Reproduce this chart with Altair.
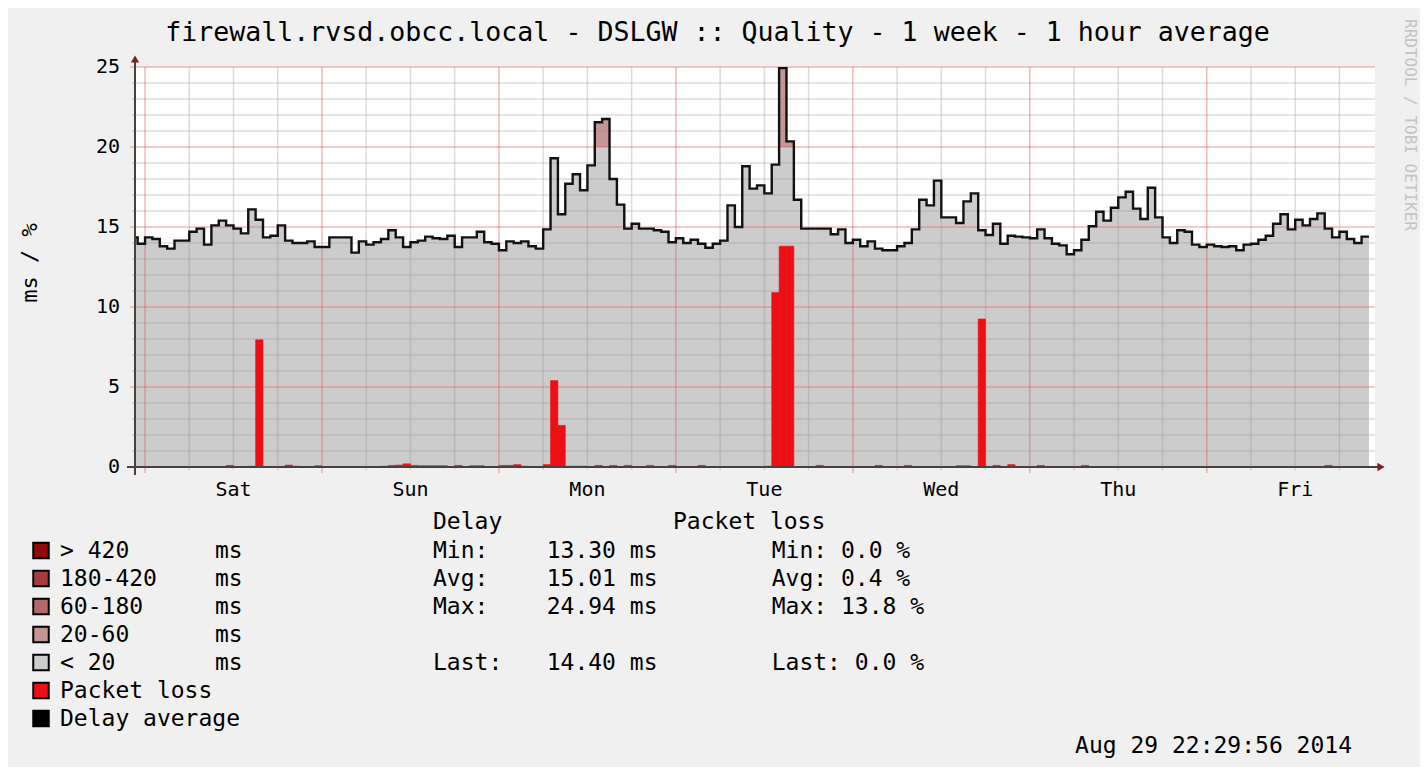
import altair as alt
import pandas as pd

# -----------------------------
# DATOS
# -----------------------------

title_text = "firewall.rvsd.obcc.local - DSLGW :: Quality - 1 week - 1 hour average"
day_names = ["Sat", "Sun", "Mon", "Tue", "Wed", "Thu", "Fri"]
day_noon_hours = [12, 36, 60, 84, 108, 132, 156]
y_tick_values = [0, 5, 10, 15, 20, 25]

# horas contadas desde el sábado 00:00, un valor por hora (1 hour average)
first_hour = -2
delay_ms = [
    14.35, 13.95,
    14.35, 14.25, 13.8, 13.65, 14.15, 14.15, 14.7, 14.9, 13.9, 15.1, 15.4, 15.1,
    14.9, 14.6, 16.1, 15.45, 14.35, 14.45, 15.1, 14.15, 14.0, 14.0, 14.1, 13.75,
    13.75, 14.35, 14.35, 14.35, 13.4, 14.1, 13.9, 14.05, 14.25, 14.8, 14.35, 13.75,
    14.05, 14.15, 14.4, 14.3, 14.25, 14.45, 13.75, 14.35, 14.35, 14.7, 14.05, 13.95,
    13.55, 14.1, 14.0, 14.1, 13.8, 13.65, 14.85, 19.3, 15.8, 17.7, 18.3, 17.3,
    18.85, 21.55, 21.75, 18.0, 16.4, 14.9, 15.2, 14.9, 14.9, 14.8, 14.7, 14.05,
    14.3, 14.0, 14.2, 13.95, 13.7, 13.95, 14.15, 16.35, 15.0, 18.8, 17.4, 17.6,
    17.1, 18.9, 24.94, 20.35, 16.7, 14.9, 14.9, 14.9, 14.9, 14.55, 14.85, 14.0,
    14.2, 13.8, 14.1, 13.65, 13.55, 13.55, 13.8, 14.0, 14.85, 16.7, 16.35, 17.9,
    15.6, 15.6, 15.25, 16.6, 17.1, 14.8, 14.5, 15.2, 13.95, 14.45, 14.4, 14.35,
    14.3, 14.85, 14.3, 13.95, 13.85, 13.3, 13.55, 14.2, 15.05, 15.95, 15.4, 16.2,
    16.85, 17.2, 16.15, 15.5, 17.45, 15.6, 14.35, 14.0, 14.8, 14.7, 13.9, 13.75,
    13.9, 13.8, 13.75, 13.8, 13.55, 13.9, 13.95, 14.2, 14.45, 15.2, 15.8, 14.85,
    15.45, 15.1, 15.5, 15.85, 14.9, 14.35, 14.7, 14.25, 14.0, 14.4,
]

# pérdida de paquetes (%) solo en las horas con pérdida
loss_hours = [11, 14, 15, 19, 20, 23, 32, 33, 34, 35, 36, 37, 38, 39, 40, 42, 44, 45,
              48, 49, 50, 51, 54, 55, 56, 57, 58, 59, 61, 63, 65, 68, 71, 75, 84, 85,
              86, 87, 91, 99, 103, 110, 111, 113, 115, 117, 121, 127, 160]
loss_pct = [0.1, 0.05, 7.95, 0.12, 0.05, 0.08, 0.05, 0.1, 0.12, 0.2, 0.1, 0.08, 0.08, 0.08,
            0.08, 0.1, 0.08, 0.08, 0.1, 0.1, 0.15, 0.05, 0.15, 5.4, 2.6, 0.05, 0.05, 0.05,
            0.1, 0.1, 0.1, 0.1, 0.1, 0.1, 0.05, 10.9, 13.8, 13.8, 0.1, 0.1, 0.1, 0.08,
            0.08, 9.25, 0.1, 0.15, 0.1, 0.1, 0.1]

band_labels = ["> 420", "180-420", "60-180", "20-60", "< 20"]
band_colors = ["#900a0a", "#a83c3c", "#b46a6a", "#c59595", "#cccccc"]
loss_color = "#ec1016"

delay_stats = [("Min:", "13.30 ms"), ("Avg:", "15.01 ms"), ("Max:", "24.94 ms"), None, ("Last:", "14.40 ms")]
loss_stats = ["Min: 0.0 %", "Avg: 0.4 %", "Max: 13.8 %", None, "Last: 0.0 %"]
timestamp = "Aug 29 22:29:56 2014"

# -----------------------------
# TABLAS
# -----------------------------

hours = [first_hour + i for i in range(len(delay_ms) + 1)]
df = pd.DataFrame({"h": hours, "delay": delay_ms + [delay_ms[-1]]})
df["low"] = df["delay"].clip(upper=20)

df_loss = pd.DataFrame({"h": loss_hours, "loss": loss_pct})
df_loss["h2"] = df_loss["h"] + 1

minor_y = pd.DataFrame({"v": [v for v in range(1, 25) if v % 5]})
major_y = pd.DataFrame({"v": [5, 10, 15, 20, 25]})
minor_x = pd.DataFrame({"h": [h for h in range(0, 167, 6) if h % 24]})
major_x = pd.DataFrame({"h": list(range(0, 168, 24))})
y_labels = pd.DataFrame({"v": y_tick_values, "t": [str(v) for v in y_tick_values]})
x_labels = pd.DataFrame({"h": day_noon_hours, "t": day_names})
one = pd.DataFrame({"k": [0]})

FONT = "DejaVu Sans Mono"
W, H = 1240, 400
xs = alt.Scale(domain=[-1.36, 166.82], nice=False, zero=False)
ys = alt.Scale(domain=[0, 25], nice=False)
X = alt.X("h:Q", scale=xs, axis=None)

# -----------------------------
# CAPAS DEL GRÁFICO
# -----------------------------

low_area = alt.Chart(df).mark_area(interpolate="step-after", color="#cccccc", clip=True).encode(
    x=X, y=alt.Y("low:Q", scale=ys, axis=None)
)

high_area = alt.Chart(df).mark_area(interpolate="step-after", color=band_colors[3], clip=True).encode(
    x=X, y=alt.Y("delay:Q", scale=ys, axis=None), y2="low:Q"
)

grid_minor_y = alt.Chart(minor_y).mark_rule(color="#8f8f8f", opacity=0.3, strokeWidth=1.5).encode(
    y=alt.Y("v:Q", scale=ys, axis=None), x=alt.value(-3), x2=alt.value(W)
)
grid_minor_x = alt.Chart(minor_x).mark_rule(color="#8f8f8f", opacity=0.3, strokeWidth=1.5).encode(
    x=X, y=alt.value(0), y2=alt.value(H + 3)
)
grid_major_y = alt.Chart(major_y).mark_rule(color="#de4f4f", opacity=0.4, strokeWidth=1.5).encode(
    y=alt.Y("v:Q", scale=ys, axis=None), x=alt.value(-5), x2=alt.value(W)
)
grid_major_x = alt.Chart(major_x).mark_rule(color="#de4f4f", opacity=0.4, strokeWidth=1.5).encode(
    x=X, y=alt.value(0), y2=alt.value(H + 6)
)

loss_bars = alt.Chart(df_loss).mark_rect(color=loss_color, stroke=loss_color, strokeWidth=0.6).encode(
    x=X, x2="h2:Q", y=alt.Y("loss:Q", scale=ys, axis=None), y2=alt.datum(0)
)

delay_line = alt.Chart(df).mark_line(interpolate="step-after", color="#111111", strokeWidth=2.4, clip=True).encode(
    x=X, y=alt.Y("delay:Q", scale=ys, axis=None)
)

# ejes con flechas al estilo rrdtool
axis_y = alt.Chart(one).mark_rule(color="#4a4040", strokeWidth=2).encode(
    x=alt.value(0), y=alt.value(-6), y2=alt.value(H + 8)
)
axis_x = alt.Chart(one).mark_rule(color="#4a4040", strokeWidth=2).encode(
    x=alt.value(-8), x2=alt.value(W + 6), y=alt.value(H)
)
arrow_y = alt.Chart(one).mark_point(shape="triangle-up", filled=True, color="#801f1f", size=70, opacity=1).encode(
    x=alt.value(0), y=alt.value(-8)
)
arrow_x = alt.Chart(one).mark_point(shape="triangle-right", filled=True, color="#801f1f", size=70, opacity=1).encode(
    x=alt.value(W + 6), y=alt.value(H)
)

# etiquetas de los ejes
y_tick_text = alt.Chart(y_labels).mark_text(font=FONT, fontSize=20, align="right", baseline="middle",
                                            color="black").encode(
    y=alt.Y("v:Q", scale=ys, axis=None), x=alt.value(-15), text="t:N"
)
x_tick_text = alt.Chart(x_labels).mark_text(font=FONT, fontSize=20, align="center", baseline="middle",
                                            color="black").encode(
    x=X, y=alt.value(422.5), text="t:N"
)


def txt(s, x, y, size=23, align="left", color="black", angle=0):
    return alt.Chart(one).mark_text(font=FONT, fontSize=size, align=align, baseline="middle",
                                    color=color, angle=angle).encode(
        x=alt.value(x), y=alt.value(y), text=alt.value(s)
    )


texts = [
    txt(title_text, 582.5, -34, size=26.6, align="center"),
    txt("ms / %", -105, 196, size=22, align="center", angle=270),
    txt("RRDTOOL / TOBI OETIKER", 1275, 58, size=16, align="center", color="#c4c4c4", angle=90),
    txt("Delay", 298, 455),
    txt("Packet loss", 538, 455),
    txt(timestamp, 1217, 679, align="right"),
]

# leyenda
row0, step = 483.5, 28
legend_items = list(zip(band_labels, band_colors)) + [("Packet loss", loss_color), ("Delay average", "#000000")]
swatches = []
for i, (lab, col) in enumerate(legend_items):
    y = row0 + step * i
    swatches.append(
        alt.Chart(one).mark_point(shape="square", filled=True, fill=col, stroke="black",
                                  strokeWidth=2, size=240, opacity=1).encode(
            x=alt.value(-94), y=alt.value(y)
        )
    )
    texts.append(txt(lab, -75, y))
    if i < len(band_labels):
        texts.append(txt("ms", 80, y))

for i, ds in enumerate(delay_stats):
    if ds is None:
        continue
    y = row0 + step * i
    texts.append(txt(ds[0], 298, y))
    texts.append(txt(ds[1], 411.7, y))
    texts.append(txt(loss_stats[i], 636.7, y))

chart = alt.layer(
    low_area, high_area,
    grid_minor_y, grid_minor_x, grid_major_y, grid_major_x,
    loss_bars, delay_line,
    axis_y, axis_x, arrow_y, arrow_x,
    y_tick_text, x_tick_text,
    *swatches, *texts,
).properties(
    width=W, height=H,
    padding={"left": 127, "top": 59, "right": 45, "bottom": 300},
    autosize=alt.AutoSizeParams(type="none"),
).configure(
    background="#f0f0f0",
).configure_view(
    fill="white", stroke=None
)

chart.save("out.html", embed_options={"renderer": "svg", "actions": False})
